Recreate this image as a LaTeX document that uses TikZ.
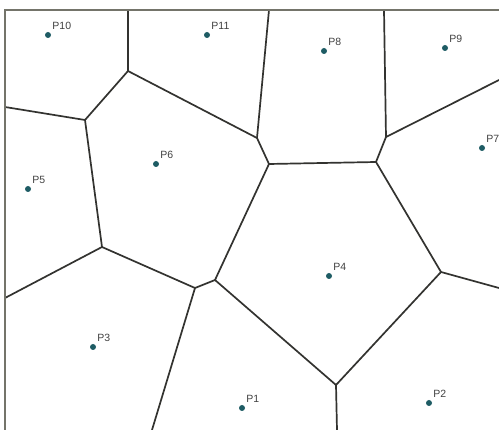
\documentclass[tikz,border=0pt]{standalone}
\usepackage{fontspec}
\setsansfont{Liberation Sans}
\usetikzlibrary{positioning}
\definecolor{wallgray}{HTML}{333330}
\definecolor{framegray}{HTML}{74746A}
\definecolor{seedteal}{HTML}{1E5C64}
\definecolor{lblgray}{HTML}{404040}
\tikzset{
  cellwall/.style ={draw=wallgray,line width=1.7pt,line cap=round,line join=round},
  frame/.style    ={draw=framegray,line width=2.4pt},
  seed/.style     ={circle,fill=seedteal,inner sep=0pt,minimum size=6pt},
  seedlbl/.style  ={font=\sffamily\fontsize{10.5}{12}\selectfont,text=lblgray,
                    anchor=base west,inner sep=0pt},
}

\begin{document}
\begin{tikzpicture}[x=1pt,y=-1pt]
\useasboundingbox (0,0) rectangle (499,430);
% vertices of the cells
\coordinate (a) at (128,71);
\coordinate (b) at (85,120);
\coordinate (c) at (257,138);
\coordinate (d) at (269,164);
\coordinate (e) at (376,162);
\coordinate (f) at (386,137);
\coordinate (g) at (441,272);
\coordinate (h) at (336,385);
\coordinate (i) at (215,280);
\coordinate (j) at (195,288);
\coordinate (k) at (102,247);
% where walls meet the frame / picture edge
\coordinate (ta) at (128,10);
\coordinate (tc) at (269,10);
\coordinate (tf) at (384,10);
\coordinate (lb) at (5,107);
\coordinate (lk) at (5,298);
\coordinate (rf) at (499,80);
\coordinate (rg) at (499,288);
\coordinate (bh) at (337,430);
\coordinate (bj) at (152,430);
\coordinate (tr) at (499,10);
\coordinate (tl) at (5,10);
\coordinate (bl) at (5,430);

\path[cellwall] (ta) -- (a) -- (b) -- (lb);
\path[cellwall] (b) -- (k) -- (lk);
\path[cellwall] (a) -- (c) -- (tc);
\path[cellwall] (c) -- (d) -- (e) -- (f) -- (tf);
\path[cellwall] (f) -- (rf);
\path[cellwall] (e) -- (g) -- (rg);
\path[cellwall] (g) -- (h) -- (bh);
\path[cellwall] (h) -- (i) -- (j) -- (bj);
\path[cellwall] (i) -- (d);
\path[cellwall] (j) -- (k);
\path[frame] (tr) -- (tl) -- (bl);

% seed points
\foreach \nm/\px/\py in {P1/242/408, P2/429/403, P3/93/347, P4/329/276,
                         P5/28/189, P6/156/164, P7/482/148, P8/324/51,
                         P9/445/48, P10/48/35, P11/207/35}{
  \node[seed] (\nm) at (\px,\py) {};
  \node[seedlbl] (\nm lbl) at ([shift={(2pt,3pt)}]\nm.north east) {\nm};
}
\end{tikzpicture}
\end{document}
